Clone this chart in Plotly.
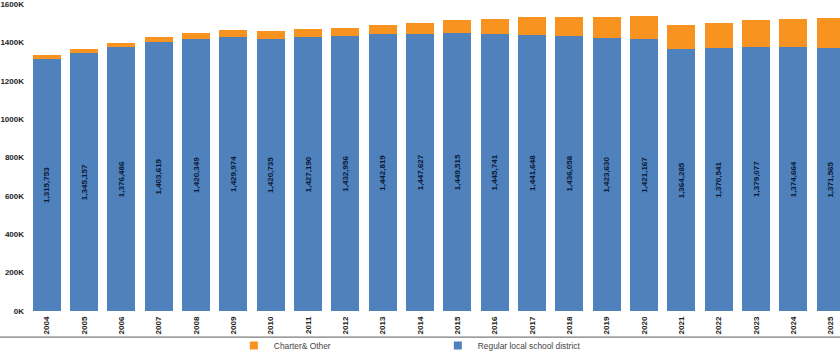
import plotly.graph_objects as go

years = [str(y) for y in range(2004, 2026)]
regular = [1315753, 1345157, 1376486, 1403619, 1420349, 1429974, 1420735, 1427190,
           1432956, 1442819, 1447627, 1449515, 1445741, 1441648, 1436058, 1423630,
           1421167, 1364285, 1370541, 1379077, 1374664, 1371565]
charter = [19000, 22000, 24000, 24000, 31000, 36000, 38000, 41500, 45000, 48000, 55000,
           67000, 78000, 92000, 97000, 111000, 118000, 128000, 132000, 140000, 147000, 156000]
ytick_vals = [0, 200000, 400000, 600000, 800000, 1000000, 1200000, 1400000, 1600000]
ytick_text = ["0K", "200K", "400K", "600K", "800K", "1000K", "1200K", "1400K", "1600K"]

BLUE = "#4f81bd"
ORANGE = "#f7931e"
FONT = "Liberation Sans, Arial, sans-serif"

fig = go.Figure()
fig.add_trace(go.Bar(
    x=years, y=regular, name="Regular local school district",
    marker=dict(color=BLUE, line=dict(width=0)),
    text=[f"{v:,}" for v in regular], textposition="inside", textangle=-90,
    insidetextanchor="middle", constraintext="none",
    textfont=dict(family=FONT, size=8, color="#0c1a36", weight="bold"),
    showlegend=False, hoverinfo="skip"))
fig.add_trace(go.Bar(
    x=years, y=charter, name="Charter& Other",
    marker=dict(color=ORANGE, line=dict(width=0)),
    showlegend=False, hoverinfo="skip"))

# legend entries
fig.add_trace(go.Scatter(x=[None], y=[None], mode="markers", name="Charter& Other",
                         marker=dict(symbol="square", size=8, color=ORANGE),
                         legend="legend"))
fig.add_trace(go.Scatter(x=[None], y=[None], mode="markers", name="Regular local school district",
                         marker=dict(symbol="square", size=8, color=BLUE),
                         legend="legend2"))

legend_common = dict(orientation="h", yanchor="middle", y=-0.112, xanchor="left",
                     font=dict(family=FONT, size=8.4, color="#444"),
                     bgcolor="rgba(0,0,0,0)", borderwidth=0, itemwidth=30)

fig.update_layout(
    width=840, height=354,
    margin=dict(l=28, r=0, t=3.5, b=42.5, autoexpand=False),
    paper_bgcolor="white", plot_bgcolor="white",
    barmode="stack", bargap=0.25,
    font=dict(family=FONT),
    xaxis=dict(type="category", range=[-0.5, 21.25], tickangle=-90,
               tickfont=dict(family=FONT, size=8, color="#222", weight="bold"),
               showgrid=False, showline=False, zeroline=False, ticks="",
               ticklabelstandoff=3, automargin=False),
    yaxis=dict(range=[0, 1601500], tickvals=ytick_vals, ticktext=ytick_text,
               tickfont=dict(family=FONT, size=8, color="#222", weight="bold"),
               showgrid=False, showline=False, zeroline=False, ticks="",
               ticklabelstandoff=3, automargin=False),
    legend=dict(x=0.2535, **legend_common),
    legend2=dict(x=0.5047, **legend_common),
    shapes=[dict(type="line", xref="paper", yref="paper", x0=-0.04, x1=1.0,
                 y0=-0.085, y1=-0.085, layer="above",
                 line=dict(color="#5a5a5a", width=1))],
)

fig.write_html("out.html")
